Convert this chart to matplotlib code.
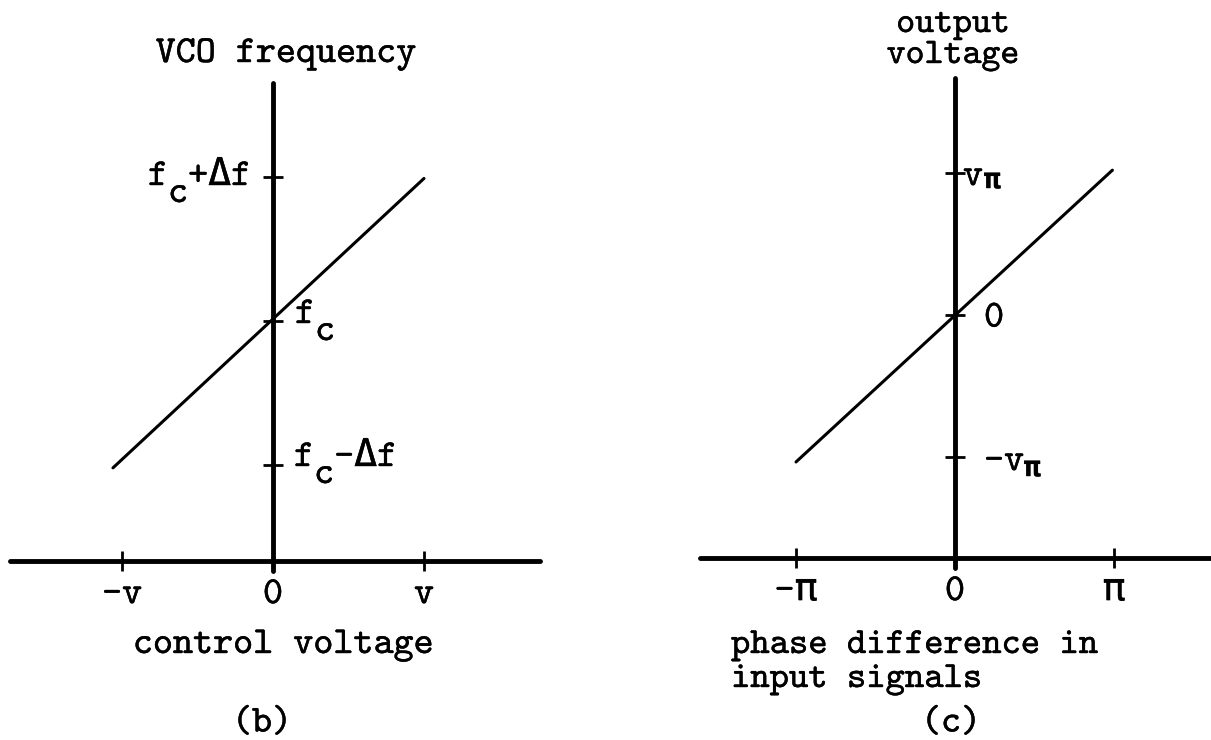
import matplotlib
matplotlib.use('Agg')
import matplotlib.pyplot as plt
import matplotlib.patheffects as pe

W, H = 1211, 740
FS = 27.5
ADV = 0.525 * FS * 100 / 72  # cmtt10 character advance in pixels

# typewriter face shipped with matplotlib, DejaVu for the greek letters
plt.rcParams['font.family'] = ['cmtt10', 'DejaVu Sans Mono']
plt.rcParams['font.size'] = FS
plt.rcParams['axes.unicode_minus'] = False

# (b) VCO transfer line, in units of v (x) and delta f (y)
vco_ticks = [-1, 0, 1]
vco_tick_labels = ['-v', '0', 'v']
vco_voltage = [-1.06, 1.0]
vco_freq = [-1.02, 0.99]

# (c) phase detector line, in units of pi (x) and v_pi (y)
pd_ticks = [-1, 0, 1]
pd_tick_labels = ['-π', '0', 'π']
pd_phase = [-1.0, 0.99]
pd_output = [-1.035, 1.02]

ink = [pe.withStroke(linewidth=0.3, foreground='black')]

fig = plt.figure(figsize=(W / 100, H / 100), dpi=100)


def diagram_axes(box, origin, unit, base_y):
    # box and origin in pixels, unit = pixels per data unit
    left, top, right, bottom = box
    x0, y0 = origin
    ux, uy = unit
    ax = fig.add_axes([left / W, 1 - bottom / H, (right - left) / W, (bottom - top) / H])
    ax.set_xlim((left - x0) / ux, (right - x0) / ux)
    ax.set_ylim((y0 - bottom) / uy, (y0 - top) / uy)
    ax.patch.set_visible(False)
    for side in ('top', 'right'):
        ax.spines[side].set_visible(False)
    ax.spines['left'].set_position(('data', 0))
    ax.spines['bottom'].set_position(('data', (y0 - base_y) / uy))
    for side in ('left', 'bottom'):
        ax.spines[side].set_linewidth(3.5)
        ax.spines[side].set_capstyle('round')
    ax.tick_params(direction='inout', length=14, width=2, color='black')
    ax.tick_params(axis='x', pad=6, labelsize=FS)
    return ax


def label(x, y, s, **kw):
    kw.setdefault('path_effects', ink)
    fig.text(x / W, 1 - y / H, s, **kw)


def sub_label(x, y, rest):
    # f with a lowered c, then the rest of the label
    label(x, y, 'f', ha='left', va='baseline')
    label(x + ADV, y + 17, 'c', ha='left', va='baseline')
    if rest:
        label(x + 2 * ADV, y, rest, ha='left', va='baseline')


# panel (b)
axb = diagram_axes((10, 83, 540, 571), (273, 321), (151, 144), 561)
axb.set_xticks(vco_ticks, vco_tick_labels)
axb.set_yticks(vco_ticks, [])
for t in axb.get_xticklabels():
    t.set_path_effects(ink)
axb.plot(vco_voltage, vco_freq, color='black', lw=2.2, solid_capstyle='round')

label(286, 62, 'VCO frequency', ha='center', va='baseline')
sub_label(148, 185, '+Δf')
sub_label(295, 323, '')
sub_label(294, 466, '-Δf')
label(283, 653, 'control voltage', ha='center', va='baseline')
label(262, 724, '(b)', ha='center', va='center')

# panel (c)
axc = diagram_axes((700, 78, 1211, 568), (955, 315), (159, 142), 558)
axc.set_xticks(pd_ticks, pd_tick_labels)
axc.set_yticks(pd_ticks, [])
for t in axc.get_xticklabels():
    t.set_path_effects(ink)
axc.plot(pd_phase, pd_output, color='black', lw=2.2, solid_capstyle='round')

label(953, 32, 'output', ha='center', va='baseline', fontsize=26)
label(953, 63, 'voltage', ha='center', va='baseline', fontsize=26)
label(963, 185, 'v', ha='left', va='baseline')
label(984, 188, 'π', ha='left', va='baseline', fontsize=20, fontweight='bold')
label(984, 319, '0', ha='left', va='center')
label(984, 470, '-v', ha='left', va='baseline')
label(1024, 476, 'π', ha='left', va='baseline', fontsize=20, fontweight='bold')
label(731, 653, 'phase difference in', ha='left', va='baseline', fontsize=26.5)
label(731, 687, 'input signals', ha='left', va='baseline', fontsize=26.5)
label(951, 724, '(c)', ha='center', va='center')

fig.savefig('out.png', dpi=100, facecolor='white')
